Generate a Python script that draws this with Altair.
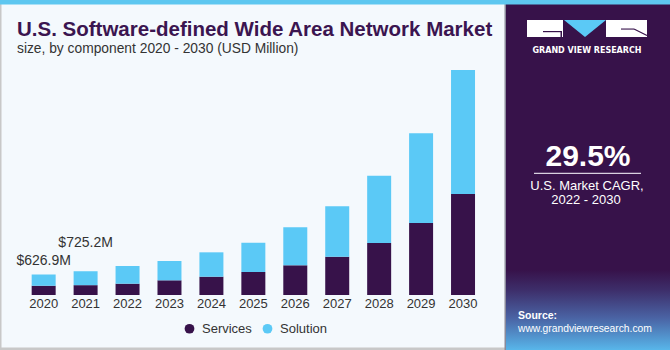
import altair as alt
import pandas as pd

# ---- data ----
years = ["2020", "2021", "2022", "2023", "2024", "2025", "2026", "2027", "2028", "2029", "2030"]
services = [280, 300, 345, 448, 558, 702, 906, 1168, 1586, 2196, 3081]
solution = [347, 425, 540, 589, 744, 893, 1159, 1537, 2053, 2736, 3782]
series_names = ["Services", "Solution"]
series_colors = ["#37124a", "#5bc9f6"]
annot_years = ["2020", "2021"]
annot_labels = ["$626.9M", "$725.2M"]

title_text = "U.S. Software-defined Wide Area Network Market"
subtitle_text = "size, by component 2020 - 2030 (USD Million)"
cagr_value = "29.5%"
cagr_line1 = "U.S. Market CAGR,"
cagr_line2 = "2022 - 2030"
brand_text = "GRAND VIEW RESEARCH"
source_label = "Source:"
source_url = "www.grandviewresearch.com"

W, H = 670, 350
FONT = "Liberation Sans"
PURPLE = "#37124a"

rows = []
for i, y in enumerate(years):
    rows.append({"year": y, "series": "Services", "value": services[i], "order": 0})
    rows.append({"year": y, "series": "Solution", "value": solution[i], "order": 1})
bars_df = pd.DataFrame(rows)
totals_df = pd.DataFrame({"year": years, "total": [a + b for a, b in zip(services, solution)]})

one = pd.DataFrame({"a": [0]})

xscale = alt.Scale(domain=years, range=[22.7, 484], paddingInner=0.428, paddingOuter=0.214)
yscale = alt.Scale(domain=[0, 9000], range=[295, 0])

def rect(x, x2, y, y2, color, opacity=1.0):
    return alt.Chart(one).mark_rect(color=color, opacity=opacity).encode(
        x=alt.value(x), x2=alt.value(x2), y=alt.value(y), y2=alt.value(y2))

def text(t, x, y, size, color="#333333", weight="normal", align="left", font=FONT):
    return alt.Chart(one).mark_text(text=t, fontSize=size, color=color, fontWeight=weight,
                                    align=align, baseline="alphabetic", font=font).encode(
        x=alt.value(x), y=alt.value(y))

# background pieces
left_border = rect(0, 1.5, 0, 350, "#c8c8c8")
bottom_border = rect(0, 505, 347.5, 350, "#c8c8c8")
panel = rect(505, 670, 0, 350, PURPLE)
panel_edge = rect(504.5, 506, 0, 350, "#8a8a9a")
grad = alt.Chart(one).mark_rect(
    color=alt.Gradient(gradient="linear", x1=0, y1=0, x2=0, y2=1,
                       stops=[alt.GradientStop(offset=0, color=PURPLE),
                              alt.GradientStop(offset=0.25, color="#3d2e6a"),
                              alt.GradientStop(offset=0.6, color="#4a63a4"),
                              alt.GradientStop(offset=1, color="#58b6ea")])
).encode(x=alt.value(506), x2=alt.value(670), y=alt.value(270), y2=alt.value(350))
top_strip = rect(0, 670, 0, 4.5, "#5ec7f0")

# bars
bars = alt.Chart(bars_df).mark_bar().encode(
    x=alt.X("year:N", scale=xscale, axis=None),
    y=alt.Y("value:Q", scale=yscale, axis=None, stack="zero"),
    color=alt.Color("series:N", scale=alt.Scale(domain=series_names, range=series_colors),
                    legend=alt.Legend(title=None, orient="none", legendX=183, legendY=322,
                                      direction="horizontal", symbolType="circle",
                                      symbolSize=95, labelFontSize=13, labelFont=FONT,
                                      labelColor="#333333", columnPadding=9, symbolOpacity=1,
                                      labelOffset=6)),
    order=alt.Order("order:Q"),
)

year_labels = alt.Chart(totals_df).mark_text(fontSize=13, font=FONT, color="#333333",
                                             baseline="alphabetic").encode(
    x=alt.X("year:N", scale=xscale, axis=None), y=alt.value(307.7), text="year:N")

def annot(i, dy):
    y = annot_years[i]
    df = pd.DataFrame({"year": [y], "label": [annot_labels[i]],
                       "total": [services[years.index(y)] + solution[years.index(y)]]})
    return alt.Chart(df).mark_text(fontSize=14, font=FONT, color="#333333",
                                   baseline="alphabetic", dy=dy).encode(
        x=alt.X("year:N", scale=xscale, axis=None),
        y=alt.Y("total:Q", scale=yscale, axis=None), text="label:N")

annot0 = annot(0, -9.5)
annot1 = annot(1, -24)

# titles
title = text(title_text, 17, 35.7, 20.5, color="#3b1550", weight="bold")
subtitle = text(subtitle_text, 17, 52.5, 13.8, color="#333333")

# logo
logo_g = rect(527, 563, 20, 37, "white")
logo_g_line = rect(543, 562, 31, 32.2, PURPLE)
logo_g_line2 = rect(560.5, 562, 31, 37, PURPLE)
logo_tri = alt.Chart(one).mark_point(shape="M-1,-0.4L1,-0.4L0,0.4Z", filled=True, opacity=1,
                                     color="#5bc9f6", size=1764, strokeWidth=0).encode(
    x=alt.value(585), y=alt.value(28.5))
logo_r = rect(606, 647, 20, 37, "white")
logo_r_line = alt.Chart(one).mark_rule(color=PURPLE, strokeWidth=1.2).encode(
    x=alt.value(634), y=alt.value(29), x2=alt.value(647), y2=alt.value(35.5))
logo_r_line2 = rect(621, 634, 28.5, 29.6, PURPLE)
brand = text(brand_text, 587, 53.3, 8, color="white", weight="bold", align="center",
             font="DejaVu Sans")

cagr = text(cagr_value, 588, 165.7, 30, color="white", weight="bold", align="center")
cagr_rule = alt.Chart(one).mark_rule(color="#d8d0e0", strokeWidth=1.2).encode(
    x=alt.value(534), x2=alt.value(641), y=alt.value(173.3))
cagr_t1 = text(cagr_line1, 587, 190, 13, color="white", align="center")
cagr_t2 = text(cagr_line2, 586, 203.5, 13, color="white", align="center")
src1 = text(source_label, 518, 319.3, 10.5, color="white", weight="bold")
src2 = text(source_url, 518, 331.7, 10.3, color="white")

chart = alt.layer(
    left_border, bottom_border, panel, grad, panel_edge, top_strip,
    bars, year_labels, annot0, annot1, title, subtitle,
    logo_g, logo_g_line, logo_g_line2, logo_tri, logo_r, logo_r_line, logo_r_line2, brand,
    cagr, cagr_rule, cagr_t1, cagr_t2, src1, src2,
).properties(
    width=W, height=H, padding=0, background="#f4f9fd",
    autosize=alt.AutoSizeParams(type="none"),
).configure_view(stroke=None)

chart.save("out.html", embed_options={"renderer": "svg", "actions": False})
